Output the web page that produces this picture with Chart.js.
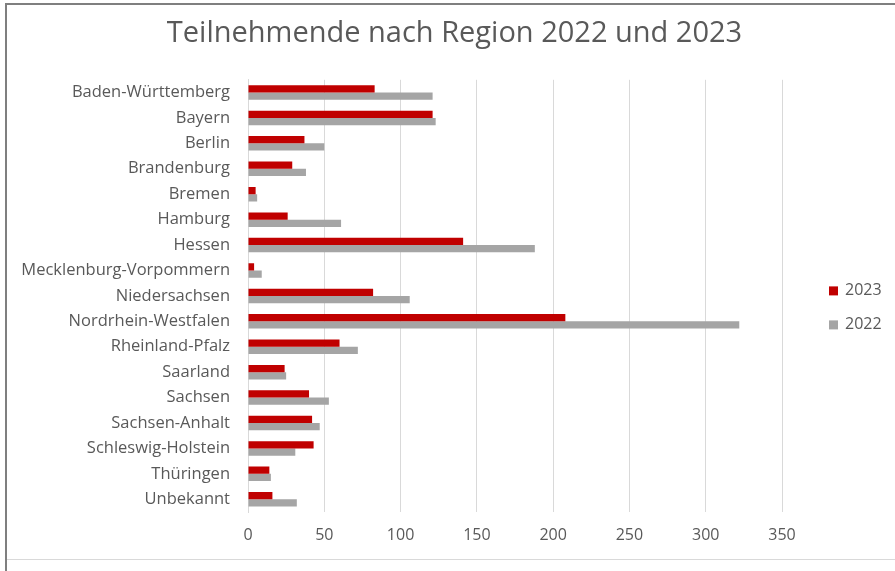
<!DOCTYPE html>
<html>
<head>
<meta charset="utf-8">
<script src="https://cdn.jsdelivr.net/npm/chart.js@4.4.1/dist/chart.umd.min.js"></script>
<style>
    html, body { margin: 0; padding: 0; background: #fff; }
    #wrap { position: relative; width: 895px; height: 571px; overflow: hidden; background: #fff; }
    #wrap canvas { position: absolute; left: 0; top: 0; }
    .frame { position: absolute; }
    #frameTop { left: 5px; top: 3px; width: 890px; height: 2px; background: #7f7f7f; }
    #frameLeft { left: 5px; top: 3px; width: 2px; height: 568px; background: #7f7f7f; }
    #frameBottom { left: 7px; top: 559px; width: 888px; height: 1px; background: #d9d9d9; }
</style>
</head>
<body>
<div id="wrap">
    <canvas id="regionChart" width="895" height="571"></canvas>
    <div class="frame" id="frameTop"></div>
    <div class="frame" id="frameLeft"></div>
    <div class="frame" id="frameBottom"></div>
</div>
<script>
const regions = [
    'Baden-Württemberg', 'Bayern', 'Berlin', 'Brandenburg', 'Bremen', 'Hamburg',
    'Hessen', 'Mecklenburg-Vorpommern', 'Niedersachsen', 'Nordrhein-Westfalen',
    'Rheinland-Pfalz', 'Saarland', 'Sachsen', 'Sachsen-Anhalt', 'Schleswig-Holstein',
    'Thüringen', 'Unbekannt'
];
const values2023 = [83, 121, 37, 29, 5, 26, 141, 4, 82, 208, 60, 24, 40, 42, 43, 14, 16];
const values2022 = [121, 123, 50, 38, 6, 61, 188, 9, 106, 322, 72, 25, 53, 47, 31, 15, 32];
const xMin = 0;
const xMax = 350;
const xStep = 50;

const FONT = '"Open Sans", "Noto Sans", sans-serif';
const TEXT = '#595959';

// legend drawn by hand to the right of the plot, like the Excel one
const sideLegend = {
    id: 'sideLegend',
    afterLayout(chart) {
        // title is centred over the whole frame, not only the plot part
        const t = chart.titleBlock;
        if (t) {
            t.left = 14;
            t.right = chart.width;
        }
    },
    afterDraw(chart) {
        const { ctx, chartArea } = chart;
        const x = chartArea.right + 47;
        let y = (chartArea.top + chartArea.bottom) / 2 - 5;
        ctx.save();
        ctx.font = '16px ' + FONT;
        ctx.textBaseline = 'middle';
        ctx.textAlign = 'left';
        chart.data.datasets.forEach(ds => {
            ctx.fillStyle = ds.backgroundColor;
            ctx.fillRect(x, y - 4.5, 9, 9);
            ctx.fillStyle = TEXT;
            ctx.fillText(ds.label, x + 16, y);
            y += 34;
        });
        ctx.restore();
    }
};

const ctx = document.getElementById('regionChart').getContext('2d');
new Chart(ctx, {
    type: 'bar',
    data: {
        labels: regions,
        datasets: [{
            label: '2023',
            data: values2023,
            backgroundColor: '#c00000'
        }, {
            label: '2022',
            data: values2022,
            backgroundColor: '#a5a5a5'
        }]
    },
    options: {
        indexAxis: 'y',
        responsive: false,
        animation: false,
        categoryPercentage: 0.57,
        barPercentage: 1.0,
        layout: {
            padding: { left: 0, right: 113, top: 0, bottom: 0 }
        },
        plugins: {
            legend: { display: false },
            tooltip: { enabled: false },
            title: {
                display: true,
                text: 'Teilnehmende nach Region 2022 und 2023',
                color: TEXT,
                font: { family: FONT, size: 29, weight: 'normal' },
                padding: { top: 16, bottom: 29 }
            }
        },
        scales: {
            x: {
                min: xMin,
                max: xMax,
                ticks: {
                    stepSize: xStep,
                    color: TEXT,
                    font: { family: FONT, size: 16 },
                    padding: 14
                },
                grid: { color: '#d9d9d9', drawTicks: false },
                border: { display: false },
                afterFit: s => { s.height = 59; }
            },
            y: {
                ticks: {
                    color: TEXT,
                    font: { family: FONT, size: 16.5 },
                    padding: 18,
                    autoSkip: false
                },
                grid: { display: false, drawTicks: false },
                border: { display: true, color: '#d9d9d9' },
                afterFit: s => { s.width = 248; }
            }
        }
    },
    plugins: [sideLegend]
});
</script>
</body>
</html>
